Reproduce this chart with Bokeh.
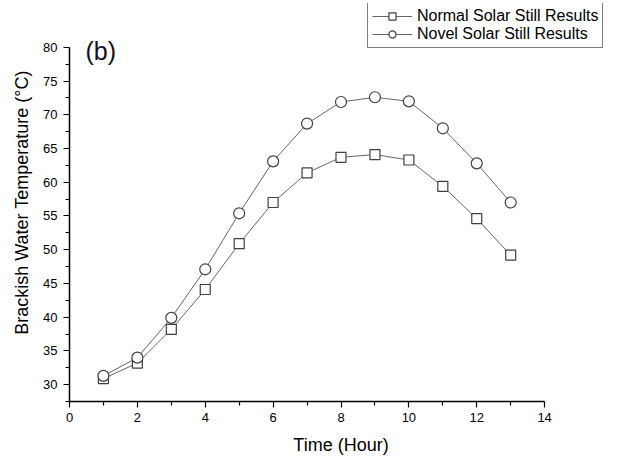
from bokeh.plotting import figure
from bokeh.models import Range1d, FixedTicker, Legend, LegendItem, Label
from bokeh.embed import file_html
from bokeh.resources import INLINE

hours = [1, 2, 3, 4, 5, 6, 7, 8, 9, 10, 11, 12, 13]
normal = [30.9, 33.2, 38.2, 44.1, 50.9, 57.0, 61.4, 63.7, 64.1, 63.3, 59.4, 54.6, 49.2]
novel = [31.3, 34.0, 39.9, 47.1, 55.4, 63.1, 68.7, 71.9, 72.6, 72.0, 68.0, 62.8, 57.0]
x_ticks = [0, 2, 4, 6, 8, 10, 12, 14]
y_ticks = [30, 35, 40, 45, 50, 55, 60, 65, 70, 75, 80]

FONT = "Liberation Sans"

# frame extends past the axes so the legend and panel label are not clipped;
# axis bounds keep the axis lines to the original 0-14 / 27.5-80 extents
p = figure(frame_width=543, frame_height=398, output_backend="svg", toolbar_location=None,
           x_range=Range1d(0, 16), y_range=Range1d(27.5, 86.5),
           min_border_left=69, min_border_top=3, min_border_right=5, min_border_bottom=54)
p.outline_line_color = None
p.xgrid.visible = False
p.ygrid.visible = False

for ax in (p.xaxis[0], p.yaxis[0]):
    ax.axis_line_width = 1.5
    ax.axis_line_color = "black"
    ax.major_tick_line_color = "black"
    ax.minor_tick_line_color = "black"
    ax.major_tick_line_width = 1.2
    ax.minor_tick_line_width = 1.2
    ax.major_tick_out = 6
    ax.major_tick_in = 0
    ax.minor_tick_out = 4
    ax.minor_tick_in = 0
    ax.major_label_text_font = FONT
    ax.major_label_text_font_size = "13px"
    ax.major_label_text_color = "black"
    ax.axis_label_text_font = FONT
    ax.axis_label_text_font_size = "18px"
    ax.axis_label_text_font_style = "normal"
    ax.axis_label_text_color = "black"

p.xaxis[0].bounds = (0, 14)
p.yaxis[0].bounds = (27.5, 80)
p.xaxis[0].ticker = FixedTicker(ticks=x_ticks, minor_ticks=[1, 3, 5, 7, 9, 11, 13])
p.yaxis[0].ticker = FixedTicker(ticks=y_ticks, minor_ticks=[27.5 + 5 * i for i in range(11)])
p.xaxis[0].axis_label = "Time (Hour)"
p.yaxis[0].axis_label = "Brackish Water Temperature (°C)"
p.xaxis[0].major_label_standoff = 5
p.xaxis[0].axis_label_standoff = 10
p.yaxis[0].major_label_standoff = 6
p.yaxis[0].axis_label_standoff = 8

line_col = "#666666"
edge_col = "#404040"
l1 = p.line(hours, normal, line_color=line_col, line_width=1)
m1 = p.scatter(hours, normal, marker="square", size=10, fill_color="white",
               line_color=edge_col, line_width=1.2)
l2 = p.line(hours, novel, line_color=line_col, line_width=1)
m2 = p.scatter(hours, novel, marker="circle", size=11, fill_color="white",
               line_color=edge_col, line_width=1.2)

legend = Legend(items=[LegendItem(label="Normal Solar Still Results", renderers=[l1, m1]),
                       LegendItem(label="Novel Solar Still Results", renderers=[l2, m2])],
                location=(298, 353))
legend.label_text_font = FONT
legend.label_text_font_size = "16px"
legend.label_text_color = "black"
legend.border_line_color = "black"
legend.border_line_width = 1
legend.padding = 4
legend.spacing = 0
legend.margin = 0
legend.glyph_width = 40
legend.glyph_height = 18
legend.label_height = 18
legend.label_standoff = 5
legend.background_fill_alpha = 1
p.add_layout(legend, "center")

title = Label(x=0.47, y=79.5, text="(b)", text_font=FONT, text_font_size="25px",
              text_color="#101020", text_baseline="alphabetic")
p.add_layout(title)

open("out.html", "w").write(file_html(p, INLINE))
